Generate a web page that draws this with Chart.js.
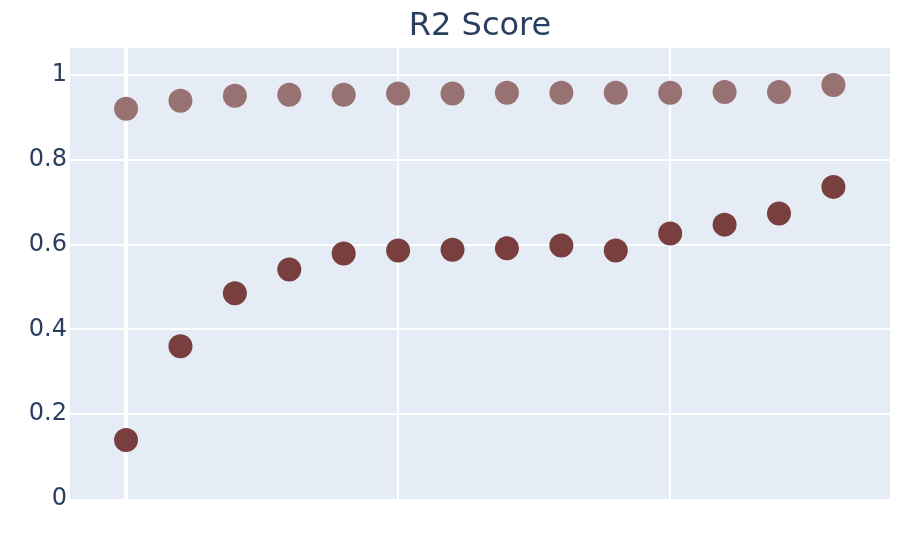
<!DOCTYPE html>
<html>
<head>
<meta charset="utf-8">
<script src="https://cdn.jsdelivr.net/npm/chart.js@4/dist/chart.umd.min.js"></script>
<style>
    html, body { margin: 0; padding: 0; background: #fff; }
    #wrap { width: 918px; height: 536px; }
</style>
</head>
<body>
<div id="wrap"><canvas id="r2-chart"></canvas></div>
<script>
// Data
const steps = [0, 1, 2, 3, 4, 5, 6, 7, 8, 9, 10, 11, 12, 13];
const trainScore = [0.920, 0.939, 0.951, 0.953, 0.953, 0.956, 0.956, 0.958, 0.958, 0.958, 0.958, 0.960, 0.960, 0.976];
const testScore = [0.139, 0.360, 0.485, 0.541, 0.579, 0.586, 0.588, 0.591, 0.598, 0.586, 0.626, 0.647, 0.673, 0.736];
const xTicks = [0, 5, 10];
const yTicks = [0, 0.2, 0.4, 0.6, 0.8, 1];

const toPoints = (vals) => vals.map((v, i) => ({ x: steps[i], y: v }));

// Plot area background
const plotBg = {
    id: 'plotBg',
    beforeDraw(chart) {
        const { ctx, chartArea } = chart;
        ctx.save();
        ctx.fillStyle = '#e5ecf6';
        ctx.fillRect(chartArea.left, chartArea.top, chartArea.right - chartArea.left, chartArea.bottom - chartArea.top);
        ctx.restore();
    }
};

const ctx = document.getElementById('r2-chart');
new Chart(ctx, {
    type: 'scatter',
    data: {
        datasets: [{
            label: 'train',
            data: toPoints(trainScore),
            backgroundColor: '#987272',
            borderWidth: 0,
            pointRadius: 12,
            pointHoverRadius: 12
        }, {
            label: 'test',
            data: toPoints(testScore),
            backgroundColor: '#783f3e',
            borderWidth: 0,
            pointRadius: 12,
            pointHoverRadius: 12
        }]
    },
    options: {
        responsive: true,
        maintainAspectRatio: false,
        animation: false,
        layout: { padding: { left: 0, right: 28, top: 0, bottom: 0 } },
        plugins: {
            legend: { display: false },
            tooltip: { enabled: false },
            title: {
                display: true,
                fullSize: false,
                text: 'R2 Score',
                color: '#2a3f5f',
                font: { family: '"DejaVu Sans", Verdana, sans-serif', size: 32, weight: 'normal' },
                padding: { top: 7, bottom: 2.6 }
            }
        },
        scales: {
            x: {
                type: 'linear',
                min: -1.03,
                max: 14.04,
                afterBuildTicks(scale) { scale.ticks = xTicks.map(v => ({ value: v })); },
                afterFit(scale) { scale.height = 37; },
                ticks: { display: false },
                border: { display: false },
                grid: {
                    color: '#ffffff',
                    lineWidth: (c) => (c.tick && c.tick.value === 0 ? 4 : 2),
                    drawTicks: false
                }
            },
            y: {
                min: 0,
                max: 1.0635,
                afterBuildTicks(scale) { scale.ticks = yTicks.map(v => ({ value: v })); },
                afterFit(scale) { scale.width = 70; },
                ticks: {
                    color: '#2a3f5f',
                    font: { family: '"DejaVu Sans", Verdana, sans-serif', size: 24 },
                    padding: 3,
                    callback: (v) => String(v)
                },
                border: { display: false },
                grid: {
                    color: (c) => (c.tick && c.tick.value === 0 ? 'rgba(0,0,0,0)' : '#ffffff'),
                    lineWidth: 2,
                    drawTicks: false
                }
            }
        }
    },
    plugins: [plotBg]
});
</script>
</body>
</html>
